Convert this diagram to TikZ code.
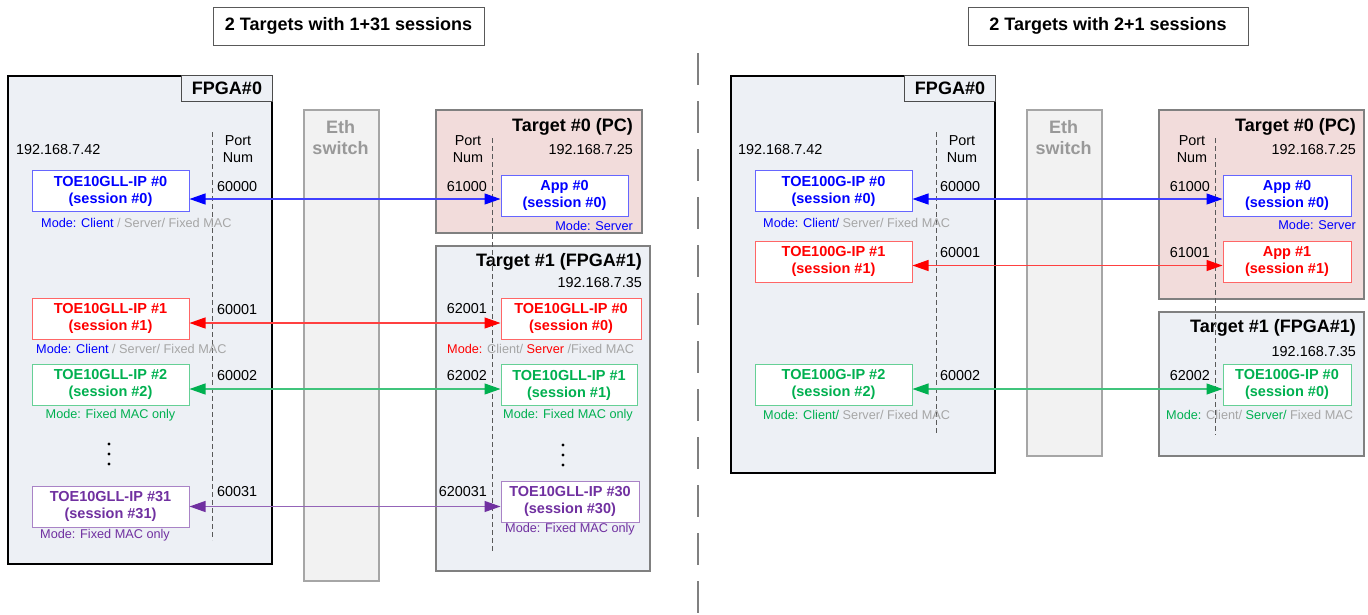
\documentclass[tikz,border=0pt]{standalone}
\usepackage{fontspec}
\setmainfont{Liberation Sans}
\usetikzlibrary{arrows.meta,positioning}

\definecolor{cBlue}{HTML}{0000FF}
\definecolor{cRed}{HTML}{FF0000}
\definecolor{cGreen}{HTML}{00B050}
\definecolor{cPurple}{HTML}{7030A0}
\definecolor{cGray}{HTML}{A6A6A6}
\definecolor{fpgaFill}{HTML}{EDF0F5}
\definecolor{pcFill}{HTML}{F2DCDB}
\definecolor{swFill}{HTML}{F2F2F2}
\definecolor{swLine}{HTML}{A6A6A6}

\tikzset{
  txt/.style={inner sep=0pt, font=\fontsize{14.4}{17}\selectfont},
  mode/.style={inner sep=0pt, font=\fontsize{12.7}{15}\selectfont, text=cGray},
  hdr/.style={inner sep=0pt, font=\bfseries\fontsize{18}{21}\selectfont},
  ttl/.style={draw=black!65, line width=1pt, fill=white, minimum width=#1,
    minimum height=38pt, inner sep=0pt, font=\bfseries\fontsize{18}{21}\selectfont},
  fpga/.style={draw=black, line width=2pt, fill=fpgaFill, anchor=north west,
    minimum width=264pt, inner sep=0pt},
  tabbox/.style={draw=black!70, line width=1pt, fill=fpgaFill, anchor=north east,
    minimum width=91pt, minimum height=26pt, inner sep=0pt, font=\bfseries\fontsize{18}{21}\selectfont},
  target/.style={draw=black!50, line width=1.5pt, anchor=north west, inner sep=0pt},
  switchbox/.style={draw=swLine, line width=2pt, fill=swFill, anchor=north west,
    minimum width=75pt, inner sep=0pt},
  sess/.style={draw=#1!60, line width=1pt, fill=white, text=#1, align=center,
    minimum height=41pt, inner sep=0pt, font=\bfseries\fontsize{14.5}{17}\selectfont},
  port/.style={draw=black!65, line width=1pt, dash pattern=on 5pt off 3pt},
  link/.style={draw=#1!75, line width=1.2pt,
    {Triangle[length=16pt,width=11pt,color=#1]}-{Triangle[length=16pt,width=11pt,color=#1]}},
}

\begin{document}
\begin{tikzpicture}[x=1pt,y=-1pt]
  \useasboundingbox (0,0) rectangle (1368,614);

  % ---- 1+31 sessions
  \node[ttl=271pt] (ttlL) at (348.5,26) {2 Targets with 1+31 sessions};
  \node[fpga, minimum height=488pt] (fpgaL) at (7,75) {};
  \node[tabbox] (tabL) at (fpgaL.north east) {FPGA\#0};
  \node[switchbox, minimum height=471pt] (swL) at (303,109) {};
  \node[hdr, text=black!40, align=center] (swLtxt) at (340.5,137.5) {Eth\\switch};
  \node[target, fill=pcFill, minimum width=206pt, minimum height=123pt] (pcL) at (435,109) {};
  \node[target, fill=fpgaFill, minimum width=214pt, minimum height=325pt] (tgL) at (435,245) {};

  \node[txt, anchor=west] (ipL) at (16,150) {192.168.7.42};
  \node[txt, align=center] (pnL) at (238,149.5) {Port\\Num};
  \node[hdr, anchor=east] (pcLtxt) at (633,127) {Target \#0 (PC)};
  \node[txt, anchor=east] (pcLip) at (633,150) {192.168.7.25};
  \node[txt, align=center] (pnLpc) at (468,149.5) {Port\\Num};
  \node[hdr, anchor=east] (tgLtxt) at (642,262) {Target \#1 (FPGA\#1)};
  \node[txt, anchor=east] (tgLip) at (642,283) {192.168.7.35};

  \draw[port] (212.7,132) -- (212.7,540);
  \draw[port] (492,138) -- (492,552);

  \node[sess=cBlue, minimum width=157pt] (tL0) at (110.5,191) {TOE10GLL-IP \#0\\(session \#0)};
  \node[sess=cRed, minimum width=157pt] (tL1) at (110.5,318.5) {TOE10GLL-IP \#1\\(session \#1)};
  \node[sess=cGreen, minimum width=157pt] (tL2) at (110.5,384.5) {TOE10GLL-IP \#2\\(session \#2)};
  \node[sess=cPurple, minimum width=157pt] (tL31) at (110.5,506.5) {TOE10GLL-IP \#31\\(session \#31)};
  \node[sess=cBlue, minimum width=127pt] (aL0) at (564.5,195.5) {App \#0\\(session \#0)};
  \node[sess=cRed, minimum width=140pt] (bL0) at (571,318.5) {TOE10GLL-IP \#0\\(session \#0)};
  \node[sess=cGreen, minimum width=136pt] (bL1) at (569,385) {TOE10GLL-IP \#1\\(session \#1)};
  \node[sess=cPurple, minimum width=138pt] (bL30) at (570,501.5) {TOE10GLL-IP \#30\\(session \#30)};

  \node[txt, anchor=west] (pL0) at (217,187) {60000};
  \node[txt, anchor=west] (pL1) at (217,310) {60001};
  \node[txt, anchor=west] (pL2) at (217,376) {60002};
  \node[txt, anchor=west] (pL31) at (217,492) {60031};
  \node[txt, anchor=east] (qL0) at (487,187) {61000};
  \node[txt, anchor=east] (qL1) at (487,309) {62001};
  \node[txt, anchor=east] (qL2) at (487,376) {62002};
  \node[txt, anchor=east] (qL30) at (487,492) {620031};

  \node[mode, anchor=west] (mL0) at (41,223) {\textcolor{cBlue}{Mode: Client} / Server/ Fixed MAC};
  \node[mode, anchor=west] (mL1) at (36,349) {\textcolor{cBlue}{Mode: Client} / Server/ Fixed MAC};
  \node[mode, text=cGreen] (mL2) at (110.5,415) {Mode: Fixed MAC only};
  \node[mode, text=cPurple] (mL31) at (105,535) {Mode: Fixed MAC only};
  \node[mode, text=cBlue, anchor=east] (mLa0) at (633,226) {Mode: Server};
  \node[mode, anchor=west] (mLb0) at (447,349)
    {\textcolor{cRed}{Mode:} Client/ \textcolor{cRed}{Server} /Fixed MAC};
  \node[mode, text=cGreen] (mLb1) at (568,415) {Mode: Fixed MAC only};
  \node[mode, text=cPurple] (mLb30) at (570,529) {Mode: Fixed MAC only};

  \foreach \k in {444,454,464} \fill (109,\k) circle (1.6pt);
  \foreach \k in {445,455,465} \fill (563,\k) circle (1.6pt);

  \draw[link=cBlue] ([yshift=-8pt]tL0.east) -- ([yshift=-8pt]tL0.east -| aL0.west);
  \draw[link=cRed] ([yshift=-4.5pt]tL1.east) -- ([yshift=-4.5pt]tL1.east -| bL0.west);
  \draw[link=cGreen] ([yshift=-4.5pt]tL2.east) -- ([yshift=-4.5pt]tL2.east -| bL1.west);
  \draw[link=cPurple] (tL31.east) -- (tL31.east -| bL30.west);

  % ---- divider
  \draw[draw=black!50, line width=2pt, dash pattern=on 32pt off 16pt] (698,53) -- (698,614);

  % ---- 2+1 sessions
  \node[ttl=280pt] (ttlR) at (1108,26) {2 Targets with 2+1 sessions};
  \node[fpga, minimum height=397pt] (fpgaR) at (730,75) {};
  \node[tabbox] (tabR) at (fpgaR.north east) {FPGA\#0};
  \node[switchbox, minimum height=346pt] (swR) at (1026,109) {};
  \node[hdr, text=black!40, align=center] (swRtxt) at (1063.5,137.5) {Eth\\switch};
  \node[target, fill=pcFill, minimum width=205pt, minimum height=189pt] (pcR) at (1158,109) {};
  \node[target, fill=fpgaFill, minimum width=205pt, minimum height=144pt] (tgR) at (1158,311) {};

  \node[txt, anchor=west] (ipR) at (738,150) {192.168.7.42};
  \node[txt, align=center] (pnR) at (962,149.5) {Port\\Num};
  \node[hdr, anchor=east] (pcRtxt) at (1356,127) {Target \#0 (PC)};
  \node[txt, anchor=east] (pcRip) at (1356,150) {192.168.7.25};
  \node[txt, align=center] (pnRpc) at (1192,149.5) {Port\\Num};
  \node[hdr, anchor=east] (tgRtxt) at (1356,328) {Target \#1 (FPGA\#1)};
  \node[txt, anchor=east] (tgRip) at (1356,352) {192.168.7.35};

  \draw[port] (936,132) -- (936,435);
  \draw[port] (1215,138) -- (1215,435);

  \node[sess=cBlue, minimum width=157pt] (tR0) at (833.5,191) {TOE100G-IP \#0\\(session \#0)};
  \node[sess=cRed, minimum width=157pt] (tR1) at (833.5,261.5) {TOE100G-IP \#1\\(session \#1)};
  \node[sess=cGreen, minimum width=157pt] (tR2) at (833.5,384.5) {TOE100G-IP \#2\\(session \#2)};
  \node[sess=cBlue, minimum width=128pt] (aR0) at (1287,195.5) {App \#0\\(session \#0)};
  \node[sess=cRed, minimum width=128pt] (aR1) at (1287,261.5) {App \#1\\(session \#1)};
  \node[sess=cGreen, minimum width=128pt] (bR0) at (1287,384.5) {TOE100G-IP \#0\\(session \#0)};

  \node[txt, anchor=west] (pR0) at (940,187) {60000};
  \node[txt, anchor=west] (pR1) at (940,253) {60001};
  \node[txt, anchor=west] (pR2) at (940,376) {60002};
  \node[txt, anchor=east] (qR0) at (1210,187) {61000};
  \node[txt, anchor=east] (qR1) at (1210,253) {61001};
  \node[txt, anchor=east] (qR2) at (1210,376) {62002};

  \node[mode, anchor=west] (mR0) at (763,223) {\textcolor{cBlue}{Mode: Client/} Server/ Fixed MAC};
  \node[mode, anchor=west] (mR2) at (763,415) {\textcolor{cGreen}{Mode: Client/} Server/ Fixed MAC};
  \node[mode, text=cBlue, anchor=east] (mRa0) at (1356,225) {Mode: Server};
  \node[mode, anchor=west] (mRb0) at (1166,415)
    {\textcolor{cGreen}{Mode:} Client/ \textcolor{cGreen}{Server/} Fixed MAC};

  \draw[link=cBlue] ([yshift=-8pt]tR0.east) -- ([yshift=-8pt]tR0.east -| aR0.west);
  \draw[link=cRed] ([yshift=-4pt]tR1.east) -- ([yshift=-4pt]tR1.east -| aR1.west);
  \draw[link=cGreen] ([yshift=-4.5pt]tR2.east) -- ([yshift=-4.5pt]tR2.east -| bR0.west);
\end{tikzpicture}
\end{document}
